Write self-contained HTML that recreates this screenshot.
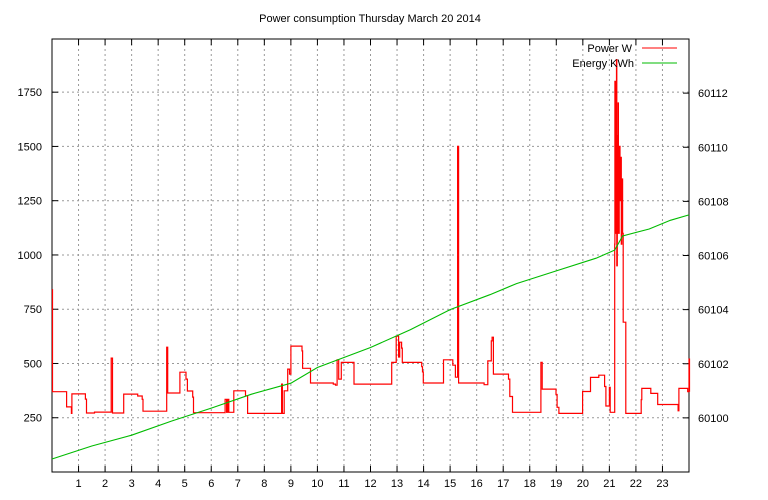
<!DOCTYPE html>
<html><head><meta charset="utf-8"><style>
html,body{margin:0;padding:0;background:#fff;}
svg{display:block;font-family:"Liberation Sans","DejaVu Sans",sans-serif;}
</style></head><body>
<svg id="chart" width="768" height="500" viewBox="0 0 768 500">
<text x="370" y="22" text-anchor="middle" font-size="11">Power consumption Thursday March 20 2014</text>
<g id="grid"></g>
<g id="axes"></g>
<g id="series"></g>
<g>
<text x="632" y="52" text-anchor="end" font-size="11">Power W</text>
<line x1="642" y1="48" x2="677" y2="48" stroke="#f00" stroke-width="1"/>
<text x="634" y="67" text-anchor="end" font-size="11">Energy KWh</text>
<line x1="642" y1="63" x2="677" y2="63" stroke="#0b0" stroke-width="1"/>
</g>
</svg>
<script>
const hourTicks=[1,2,3,4,5,6,7,8,9,10,11,12,13,14,15,16,17,18,19,20,21,22,23];
const powerTicks=[250,500,750,1000,1250,1500,1750];
const energyTicks=[60100,60102,60104,60106,60108,60110,60112];
const powerHours=[0,0.02,0.55,0.73,0.75,1.26,1.3,1.6,2.23,2.28,2.7,3.23,3.4,3.43,4.32,4.36,4.82,5.05,5.1,5.3,5.33,6.52,6.58,6.62,6.66,6.85,7.29,7.37,8.65,8.68,8.75,8.88,8.95,9.0,9.42,9.44,9.74,10.6,10.68,10.74,10.8,10.9,11.38,12.8,12.97,13.06,13.1,13.17,13.2,13.93,13.96,13.99,14.75,15.1,15.2,15.28,15.32,16.28,16.42,16.55,16.58,16.63,17.2,17.25,17.35,18.42,18.47,18.99,19.03,19.1,19.99,20.29,20.6,20.82,20.87,21.0,21.03,21.2,21.21,21.23,21.24,21.27,21.28,21.3,21.31,21.33,21.34,21.37,21.38,21.4,21.42,21.45,21.47,21.5,21.52,21.62,22.2,22.22,22.56,22.82,23.59,23.62,23.95,24.0,24.02];
const powerWatts=[840,370,300,270,360,336,272,276,525,272,359,350,335,280,575,364,460,428,373,345,273,335,275,335,275,374,351,270,405,270,374,474,451,580,558,478,410,405,400,517,428,505,405,505,626,530,598,571,505,485,461,410,517,492,437,1500,410,402,512,604,621,451,428,348,275,505,382,357,298,270,371,436,446,394,304,390,275,1050,1800,1100,1640,1900,950,1550,1200,1700,1100,1300,1500,1250,1450,1050,1350,1100,690,270,333,385,362,311,282,385,370,520,370];
const energyHours=[0,1.5,3,4.5,6,7.5,9,10,12,13.5,15,16.5,17.5,19,20.5,21.2,21.5,22.5,23.3,24];
const energyKWh=[60098.48,60098.96,60099.36,60099.88,60100.36,60100.87,60101.28,60101.86,60102.6,60103.26,60104.0,60104.55,60104.96,60105.43,60105.9,60106.2,60106.72,60106.98,60107.3,60107.5];

const L=52,R=689,T=39,B=472;
const xS=h=>L+(h/24)*(R-L);
const yP=w=>B-(w/1995)*(B-T);
const yE=e=>B-((e-60098)/16)*(B-T);
const NS="http://www.w3.org/2000/svg";
function mk(tag,attrs,parent){const el=document.createElementNS(NS,tag);for(const k in attrs)el.setAttribute(k,attrs[k]);parent.appendChild(el);return el;}
const grid=document.getElementById('grid'),axes=document.getElementById('axes'),series=document.getElementById('series');

hourTicks.forEach(h=>{
  const x=xS(h);
  const g=mk('line',{x1:x,y1:T,x2:x,y2:B,stroke:'#999','stroke-dasharray':'2,3','stroke-width':1},grid);
  
  
  const t=mk('line',{x1:x,y1:B,x2:x,y2:B-6,stroke:'#000'},axes);
  
  
  const t2=mk('line',{x1:x,y1:T,x2:x,y2:T+6,stroke:'#000'},axes);
  
  
  const lb=mk('text',{x:x,y:B+15,'text-anchor':'middle','font-size':11},axes);
  lb.textContent=h;
  
  
});
powerTicks.forEach(w=>{
  const y=yP(w);
  const g=mk('line',{x1:L,y1:y,x2:R,y2:y,stroke:'#999','stroke-dasharray':'2,3','stroke-width':1},grid);
  
  
  const t=mk('line',{x1:L,y1:y,x2:L+6,y2:y,stroke:'#000'},axes);
  
  
  const lb=mk('text',{x:L-10,y:y+4,'text-anchor':'end','font-size':11},axes);
  lb.textContent=w;
  
  
});
energyTicks.forEach(e=>{
  const y=yE(e);
  const t=mk('line',{x1:R,y1:y,x2:R-6,y2:y,stroke:'#000'},axes);
  
  
  const lb=mk('text',{x:R+9,y:y+4,'text-anchor':'start','font-size':11},axes);
  lb.textContent=e;
  
  
});
const frame=mk('rect',{x:L,y:T,width:R-L,height:B-T,fill:'none',stroke:'#000','stroke-width':1},axes);



let d='';
for(let i=0;i<powerHours.length;i++){
  const x=xS(powerHours[i]).toFixed(1),y=yP(powerWatts[i]).toFixed(1);
  if(i===0)d+='M'+x+','+y;
  else d+='H'+x+'V'+y;
}
const pl=mk('path',{d:d,fill:'none',stroke:'#f00','stroke-width':1.2},series);



let d2='';
energyHours.forEach((h,i)=>{d2+=(i?'L':'M')+xS(h).toFixed(1)+','+yE(energyKWh[i]).toFixed(1);});
const el=mk('path',{d:d2,fill:'none',stroke:'#0b0','stroke-width':1.1},series);


</script>
</body></html>
